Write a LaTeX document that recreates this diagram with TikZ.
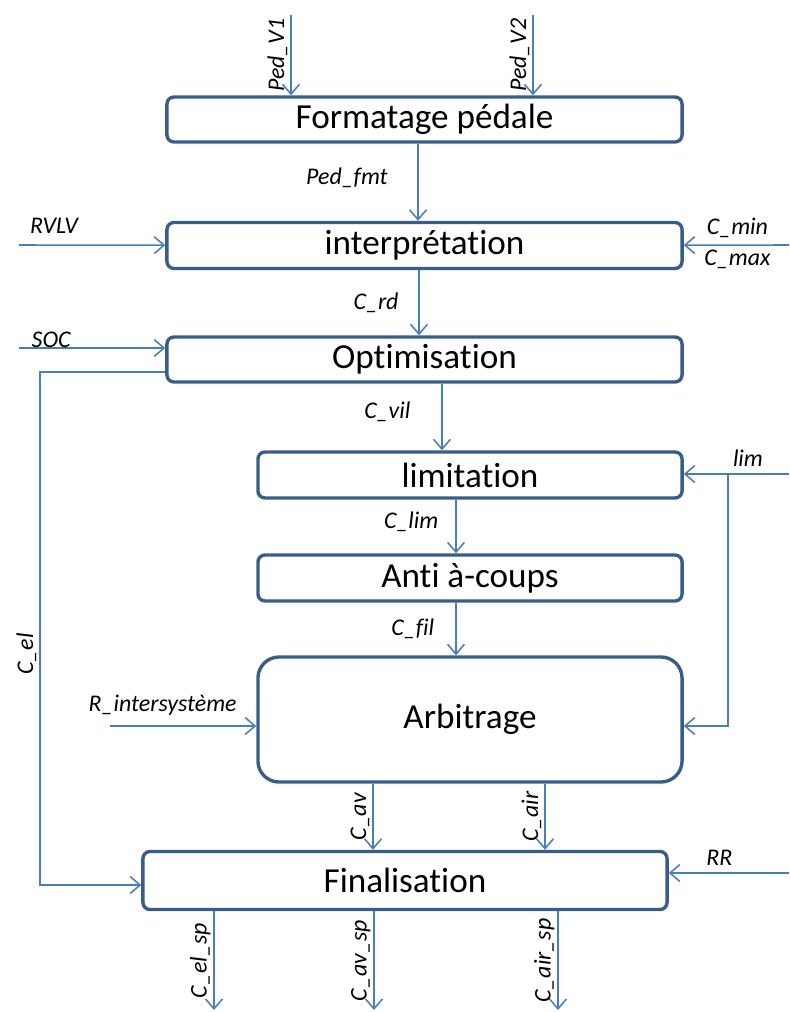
\documentclass[tikz,border=0pt]{standalone}
\usepackage{fontspec}
\setmainfont{Carlito}[Ligatures={NoCommon}]
\usetikzlibrary{arrows.meta,calc,positioning}
\definecolor{boxline}{HTML}{385D8A}
\definecolor{flowline}{HTML}{4A7EBB}
\tikzset{
  blockfig/.style={x=0.025cm,y=-0.025cm,
    >={Straight Barb[length=7pt,width=12pt]}},
  block/.style={draw=boxline,line width=2.4pt,rounded corners=5pt,fill=white,
    font=\fontsize{25}{30}\selectfont,inner sep=0pt},
  flow/.style={draw=flowline,line width=1.1pt,->},
  sig/.style={font=\fontsize{17}{20}\selectfont\itshape,inner sep=2pt},
}
\begin{document}
\begin{tikzpicture}[blockfig]
  \useasboundingbox (0,0) rectangle (789,1012);

  % blocks
  \node[block,minimum width=12.875cm,minimum height=1.125cm] (fmt) at (424.5,119.5) {Formatage pédale};
  \node[block,minimum width=12.875cm,minimum height=1.15cm] (interp) at (424.5,245.5) {interprétation};
  \node[block,minimum width=12.875cm,minimum height=1.125cm] (optim) at (424.5,359.5) {Optimisation};
  \node[block,minimum width=10.6cm,minimum height=1.15cm] (limit) at (470,475) {limitation};
  \node[block,minimum width=10.6cm,minimum height=1.15cm] (anti) at (470,578) {Anti à-coups};
  \node[block,minimum width=10.6cm,minimum height=3.125cm,rounded corners=15pt] (arbit) at (470,719.5) {Arbitrage};
  \node[block,minimum width=13.1cm,minimum height=1.45cm] (final) at (405,880.5) {Finalisation};

  % free ends
  \coordinate (pedvA) at (291,15);
  \coordinate (pedvB) at (533,15);
  \coordinate (fmtx) at (418,0);
  \coordinate (rdx) at (419,0);
  \coordinate (vilx) at (442,0);
  \coordinate (limx) at (456,0);
  \coordinate (rvlvin) at (19,245);
  \coordinate (cminin) at (789,245);
  \coordinate (socin) at (19,348);
  \coordinate (elup) at (40,372);
  \coordinate (eldown) at (40,885);
  \coordinate (limin) at (789,474);
  \coordinate (limsplit) at (728,474);
  \coordinate (rin) at (110,726);
  \coordinate (rrin) at (789,873);
  \coordinate (avx) at (373,0);
  \coordinate (airx) at (545,0);
  \coordinate (elsp) at (214,1010);
  \coordinate (avsp) at (374,1010);
  \coordinate (airsp) at (558,1010);

  % inputs on top
  \draw[flow] (pedvA) -- node[sig,rotate=90,above,midway] {Ped\_V1} (pedvA |- fmt.north);
  \draw[flow] (pedvB) -- node[sig,rotate=90,above,midway] {Ped\_V2} (pedvB |- fmt.north);

  % main chain
  \draw[flow] (fmtx |- fmt.south) -- node[sig,midway,left=19pt,yshift=3pt] {Ped\_fmt} (fmtx |- interp.north);
  \draw[flow] (rdx |- interp.south) -- node[sig,midway,left=12pt] {C\_rd} (rdx |- optim.north);
  \draw[flow] (vilx |- optim.south) -- node[sig,midway,left=20pt,yshift=4pt] {C\_vil} (vilx |- limit.north);
  \draw[flow] (limx |- limit.south) -- node[sig,midway,left=10pt,yshift=3pt] {C\_lim} (limx |- anti.north);
  \draw[flow] (limx |- anti.south) -- node[sig,midway,left=13pt] {C\_fil} (limx |- arbit.north);
  \draw[flow] (avx |- arbit.south) -- node[sig,rotate=90,above,midway] {C\_av} (avx |- final.north);
  \draw[flow] (airx |- arbit.south) -- node[sig,rotate=90,above,midway] {C\_air} (airx |- final.north);

  % side inputs
  \draw[flow] (rvlvin) -- node[sig,pos=0.24,above=6pt] {RVLV} (interp);
  \draw[flow] (cminin) -- node[sig,pos=0.49,above=3pt] {C\_min} node[sig,pos=0.49,below=1pt] {C\_max} (interp);
  \draw[flow] (socin) -- node[sig,pos=0.22,above,inner sep=0pt] {SOC} (socin -| optim.west);
  \draw[flow] (limin) -- node[sig,pos=0.39,above=3pt] {lim} (limin -| limit.east);
  \draw[flow] (limsplit) |- ($(arbit.east)+(0,6.5)$);
  \draw[flow] (rin) -- node[sig,pos=0.36,above=5pt] {R\_intersystème} (rin -| arbit.west);
  \draw[flow] (rrin) -- node[sig,pos=0.58,above=3pt] {RR} (rrin -| final.east);

  % C_el bypass
  \draw[flow] (elup -| optim.west) -- (elup) -- node[sig,rotate=90,above,pos=0.55] {C\_el} (eldown) -- (eldown -| final.west);

  % outputs
  \draw[flow] (elsp |- final.south) -- node[sig,rotate=90,above,midway] {C\_el\_sp} (elsp);
  \draw[flow] (avsp |- final.south) -- node[sig,rotate=90,above,midway] {C\_av\_sp} (avsp);
  \draw[flow] (airsp |- final.south) -- node[sig,rotate=90,above,midway] {C\_air\_sp} (airsp);
\end{tikzpicture}
\end{document}
